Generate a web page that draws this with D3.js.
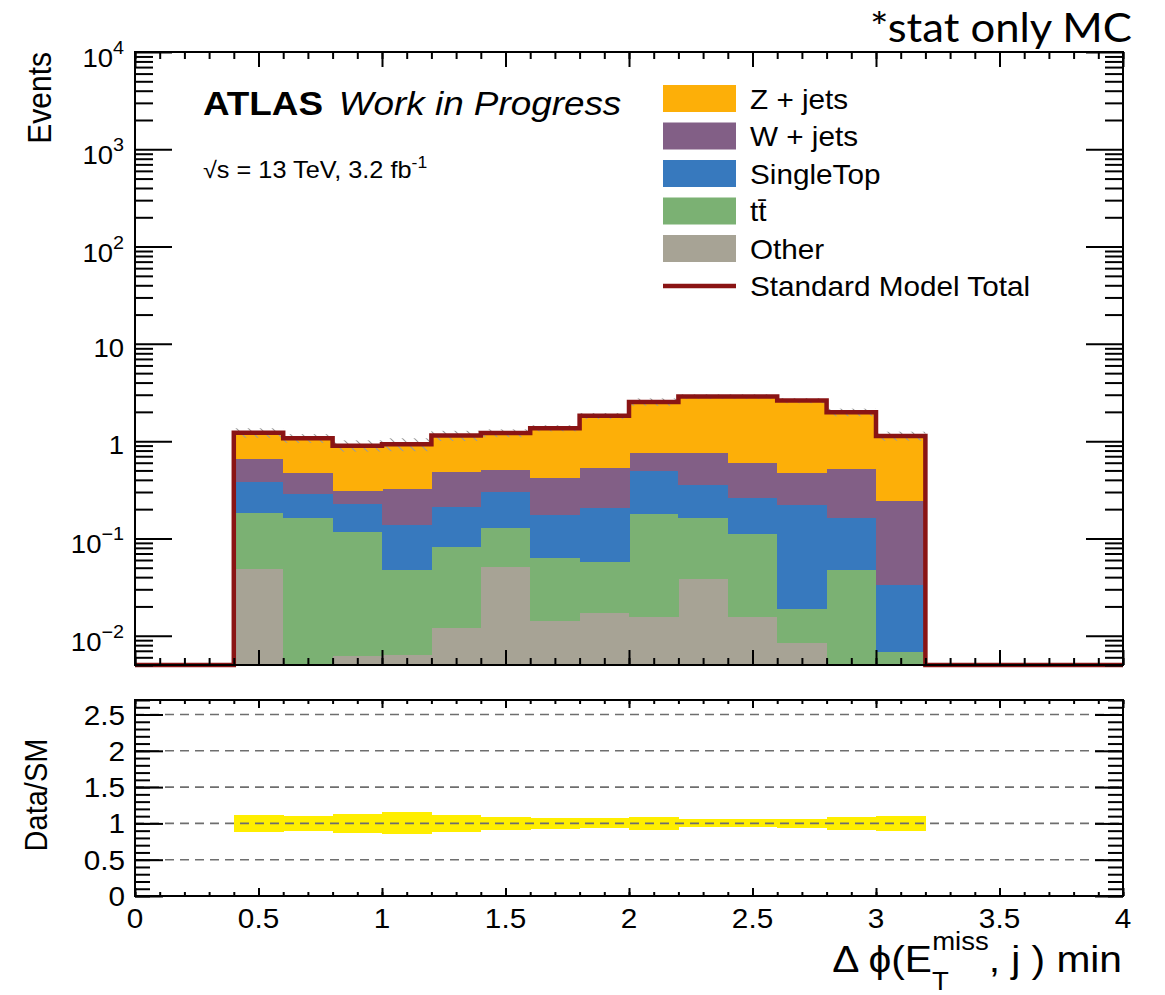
<!DOCTYPE html>
<html>
<head>
<meta charset="utf-8">
<script src="https://cdn.jsdelivr.net/npm/d3@7"></script>
<style>
  body { margin: 0; background: #fff; }
  svg text { font-family: 'Liberation Sans', Arial, Helvetica, sans-serif; fill: #000; }
</style>
</head>
<body>
<div id="chart"></div>
<script>
// bins of delta phi min
const binEdges = [0.4, 0.6, 0.8, 1.0, 1.2, 1.4, 1.6, 1.8, 2.0, 2.2, 2.4, 2.6, 2.8, 3.0, 3.2]

// per-process yields (not stacked)
const other     = [0.0486, 0.004, 0.0062, 0.0064, 0.012, 0.0509, 0.0142, 0.0173, 0.0156, 0.0381, 0.0155, 0.0084, 0.004, 0.003]
const ttbar     = [0.133, 0.160, 0.109, 0.0411, 0.0704, 0.0781, 0.0493, 0.0405, 0.164, 0.123, 0.0945, 0.0103, 0.0438, 0.0038]
const singleTop = [0.199, 0.120, 0.113, 0.0905, 0.1266, 0.174, 0.1105, 0.148, 0.314, 0.194, 0.153, 0.202, 0.116, 0.0265]
const wJets     = [0.279, 0.190, 0.077, 0.185, 0.277, 0.203, 0.247, 0.320, 0.263, 0.402, 0.334, 0.253, 0.350, 0.208]
const zJets     = [0.56, 0.596, 0.594, 0.606, 0.654, 0.704, 0.939, 1.294, 1.773, 2.113, 2.273, 2.136, 1.466, 0.889]

// relative MC stat uncertainty (ratio band half width)
const relStatErr = [0.112, 0.103, 0.133, 0.152, 0.12, 0.092, 0.073, 0.069, 0.087, 0.055, 0.055, 0.06, 0.09, 0.106]

const legendNames = ['Z + jets', 'W + jets', 'SingleTop', 'tt\u0304', 'Other', 'Standard Model Total']

// axis ticks / labels
const xMajor = [0, 0.5, 1, 1.5, 2, 2.5, 3, 3.5, 4]
const xLabels = ['0', '0.5', '1', '1.5', '2', '2.5', '3', '3.5', '4']
const yDecades = [1e-2, 1e-1, 1, 10, 1e2, 1e3, 1e4]
const yDecadeBase = ['10', '10', '1', '10', '10', '10', '10']
const yDecadeExp = ['\u22122', '\u22121', '', '', '2', '3', '4']
const ratioMajor = [0, 0.5, 1, 1.5, 2, 2.5]
const ratioLabels = ['0', '0.5', '1', '1.5', '2', '2.5']
const ratioGrid = [0.5, 1, 1.5, 2, 2.5]

const width = 1165, height = 995
const main = { left: 135, right: 1123, top: 52, bottom: 665 }
const ratio = { top: 700, bottom: 896 }
const sx = 1.1   // the original canvas is a bit stretched sideways

const keys = ['other', 'ttbar', 'singleTop', 'wJets', 'zJets']
const colors = { zJets: '#fdaf08', wJets: '#825f86', singleTop: '#3779be', ttbar: '#7bb173', other: '#a7a395' }
const legendColors = [colors.zJets, colors.wJets, colors.singleTop, colors.ttbar, colors.other]
const smRed = '#8a1414'

const rows = binEdges.slice(0, -1).map((lo, i) => ({
    lo, hi: binEdges[i + 1],
    other: other[i], ttbar: ttbar[i], singleTop: singleTop[i], wJets: wJets[i], zJets: zJets[i],
    err: relStatErr[i]
}))
rows.forEach(r => { r.total = keys.reduce((s, k) => s + r[k], 0) })

const x = d3.scaleLinear().domain([0, 4]).range([main.left, main.right])
const y = d3.scaleLog().domain([0.005, 1e4]).range([main.bottom, main.top]).clamp(true)
const yr = d3.scaleLinear().domain([0, 2.7]).range([ratio.bottom, ratio.top])
const yMin = y.domain()[0]

const svg = d3.select('#chart').append('svg')
              .attr('width', width)
              .attr('height', height)
              .style('background', '#fff')

const defs = svg.append('defs')
const hatch = defs.append('pattern')
                  .attr('id', 'hatch')
                  .attr('patternUnits', 'userSpaceOnUse')
                  .attr('width', 12).attr('height', 12)
hatch.append('path').attr('d', 'M0,0 L12,12 M-6,6 L6,18 M6,-6 L18,6')
     .attr('stroke', '#9a9a9a').attr('stroke-width', 1.1)

// stacked histogram
const series = d3.stack().keys(keys)(rows)
const stackG = svg.append('g').attr('shape-rendering', 'crispEdges')
series.forEach(s => {
    stackG.selectAll(null).data(s).enter().append('rect')
          .attr('x', d => x(d.data.lo))
          .attr('width', d => x(d.data.hi) - x(d.data.lo) + 0.5)
          .attr('y', d => y(d[1]))
          .attr('height', d => y(Math.max(d[0], yMin)) - y(d[1]))
          .attr('fill', colors[s.key])
})

// stat error hatching on total
svg.append('g').selectAll('rect').data(rows).enter().append('rect')
   .attr('x', d => x(d.lo))
   .attr('width', d => x(d.hi) - x(d.lo))
   .attr('y', d => y(d.total * (1 + d.err)))
   .attr('height', d => y(d.total * (1 - d.err)) - y(d.total * (1 + d.err)))
   .attr('fill', 'url(#hatch)')

// SM total outline
const stepPts = [{ x: 0, v: 0 }]
    .concat(rows.map(r => ({ x: r.lo, v: r.total })))
    .concat([{ x: binEdges[binEdges.length - 1], v: 0 }, { x: 4, v: 0 }])
const stepLine = d3.line()
                   .x(d => x(d.x))
                   .y(d => y(Math.max(d.v, yMin)))
                   .curve(d3.curveStepAfter)
svg.append('path')
   .datum(stepPts)
   .attr('d', stepLine)
   .attr('fill', 'none')
   .attr('stroke', smRed)
   .attr('stroke-width', 4.5)
   .attr('stroke-linejoin', 'miter')

// ratio panel: MC stat band + dashed guide lines
svg.append('g').attr('shape-rendering', 'crispEdges')
   .selectAll('rect').data(rows).enter().append('rect')
   .attr('x', d => x(d.lo))
   .attr('width', d => x(d.hi) - x(d.lo) + 0.5)
   .attr('y', d => yr(1 + d.err))
   .attr('height', d => yr(1 - d.err) - yr(1 + d.err))
   .attr('fill', '#ffee00')

svg.append('g').selectAll('line').data(ratioGrid).enter().append('line')
   .attr('x1', main.left).attr('x2', main.right)
   .attr('y1', d => yr(d)).attr('y2', d => yr(d))
   .attr('stroke', '#6e6e6e')
   .attr('stroke-width', 1.6)
   .attr('stroke-dasharray', '9,6')

// ticks, ROOT style: inward on all four sides
function ticks (axis, tx, ty) {
    svg.append('g')
       .attr('transform', `translate(${tx}, ${ty})`)
       .call(axis.tickFormat(''))
       .call(g => g.select('.domain').remove())
       .selectAll('line').attr('stroke', '#000').attr('stroke-width', 2)
}
const xMinor = d3.range(0, 4.001, 0.1).map(v => +v.toFixed(2))
const yMinor = []
for (let k = -3; k <= 3; k++) for (let m = 2; m <= 9; m++) {
    const v = m * Math.pow(10, k)
    if (v >= yMin && v <= 1e4) yMinor.push(v)
}
const rMinor = d3.range(0, 2.701, 0.1).map(v => +v.toFixed(2))

// main panel
ticks(d3.axisBottom(x).tickValues(xMajor).tickSize(-15), 0, main.bottom)
ticks(d3.axisBottom(x).tickValues(xMinor).tickSize(-7), 0, main.bottom)
ticks(d3.axisTop(x).tickValues(xMajor).tickSize(-15), 0, main.top)
ticks(d3.axisTop(x).tickValues(xMinor).tickSize(-7), 0, main.top)
ticks(d3.axisLeft(y).tickValues(yDecades).tickSize(-37), main.left, 0)
ticks(d3.axisLeft(y).tickValues(yMinor).tickSize(-18), main.left, 0)
ticks(d3.axisRight(y).tickValues(yDecades).tickSize(-37), main.right, 0)
ticks(d3.axisRight(y).tickValues(yMinor).tickSize(-18), main.right, 0)

// ratio panel
ticks(d3.axisBottom(x).tickValues(xMajor).tickSize(-8), 0, ratio.bottom)
ticks(d3.axisBottom(x).tickValues(xMinor).tickSize(-4), 0, ratio.bottom)
ticks(d3.axisTop(x).tickValues(xMajor).tickSize(-8), 0, ratio.top)
ticks(d3.axisTop(x).tickValues(xMinor).tickSize(-4), 0, ratio.top)
ticks(d3.axisLeft(yr).tickValues(ratioMajor).tickSize(-28), main.left, 0)
ticks(d3.axisLeft(yr).tickValues(rMinor).tickSize(-15), main.left, 0)
ticks(d3.axisRight(yr).tickValues(ratioMajor).tickSize(-28), main.right, 0)
ticks(d3.axisRight(yr).tickValues(rMinor).tickSize(-15), main.right, 0)

// frames
svg.append('rect')
   .attr('x', main.left).attr('y', main.top)
   .attr('width', main.right - main.left).attr('height', main.bottom - main.top)
   .attr('fill', 'none').attr('stroke', '#000').attr('stroke-width', 2)
svg.append('rect')
   .attr('x', main.left).attr('y', ratio.top)
   .attr('width', main.right - main.left).attr('height', ratio.bottom - ratio.top)
   .attr('fill', 'none').attr('stroke', '#000').attr('stroke-width', 2)

// tick labels
const yLab = svg.append('g')
yDecades.forEach((v, i) => {
    const hasExp = yDecadeExp[i] !== ''
    const t = yLab.append('text')
                  .attr('transform', `translate(124, ${y(v) + (hasExp ? 15 : 13)}) scale(${sx},1)`)
                  .attr('text-anchor', 'end')
                  .style('font-size', '25px')
                  .text(yDecadeBase[i])
    if (hasExp) t.append('tspan').attr('dy', -13).style('font-size', '18px').text(yDecadeExp[i])
})

svg.append('g').selectAll('text').data(xMajor).enter().append('text')
   .attr('transform', d => `translate(${x(d)}, 928) scale(${sx},1)`)
   .attr('text-anchor', 'middle')
   .style('font-size', '27px')
   .text((d, i) => xLabels[i])

svg.append('g').selectAll('text').data(ratioMajor).enter().append('text')
   .attr('transform', d => `translate(125, ${yr(d) + 10}) scale(${sx},1)`)
   .attr('text-anchor', 'end')
   .style('font-size', '27px')
   .text((d, i) => ratioLabels[i])

// axis titles
svg.append('text')
   .attr('transform', `translate(51, ${main.top}) rotate(-90) scale(1,${sx})`)
   .attr('text-anchor', 'end')
   .style('font-size', '30px')
   .text('Events')

svg.append('text')
   .attr('transform', `translate(47, 795) rotate(-90) scale(1,${sx})`)
   .attr('text-anchor', 'middle')
   .style('font-size', '29px')
   .text('Data/SM')

const xt = svg.append('text')
              .attr('transform', `translate(1122, 972) scale(${sx},1)`)
              .attr('text-anchor', 'end')
              .style('font-size', '37px')
xt.append('tspan').text('\u0394 \u03d5(E')
xt.append('tspan').attr('dy', 18).style('font-size', '25px').text('T')
xt.append('tspan').attr('dx', -15).attr('dy', -40).style('font-size', '25px').text('miss')
xt.append('tspan').attr('dy', 22).text(', j ) min')

// ATLAS label
const atlas = svg.append('text')
                 .attr('transform', `translate(203, 115) scale(${sx},1)`)
                 .style('font-size', '33.5px')
atlas.append('tspan').style('font-weight', 'bold').text('ATLAS')
atlas.append('tspan').attr('dx', 5).style('font-style', 'italic').text(' Work in Progress')

const lumi = svg.append('text')
                .attr('transform', `translate(203, 178) scale(${sx},1)`)
                .style('font-size', '23px')
lumi.append('tspan').text('\u221as = 13 TeV, 3.2 fb')
lumi.append('tspan').attr('dy', -10).style('font-size', '16px').text('-1')

// legend
const rowY = d3.range(legendNames.length).map(i => 98.5 + i * 37.5)
const leg = svg.append('g')
legendNames.forEach((name, i) => {
    if (i < legendColors.length) {
        leg.append('rect')
           .attr('x', 663).attr('y', rowY[i] - 13.5)
           .attr('width', 73).attr('height', 27)
           .attr('fill', legendColors[i])
    } else {
        leg.append('line')
           .attr('x1', 663).attr('x2', 736)
           .attr('y1', rowY[i]).attr('y2', rowY[i])
           .attr('stroke', smRed).attr('stroke-width', 4.5)
    }
    leg.append('text')
       .attr('transform', `translate(750, ${rowY[i] + 10}) scale(${sx},1)`)
       .style('font-size', '27px')
       .text(name)
})

// slide annotation
svg.append('text')
   .attr('x', 1132).attr('y', 42)
   .attr('text-anchor', 'end')
   .attr('textLength', 262)
   .attr('lengthAdjust', 'spacingAndGlyphs')
   .style('font-family', 'Lato, "Open Sans", sans-serif')
   .style('font-size', '41px')
   .text('*stat only MC')
</script>
</body>
</html>
